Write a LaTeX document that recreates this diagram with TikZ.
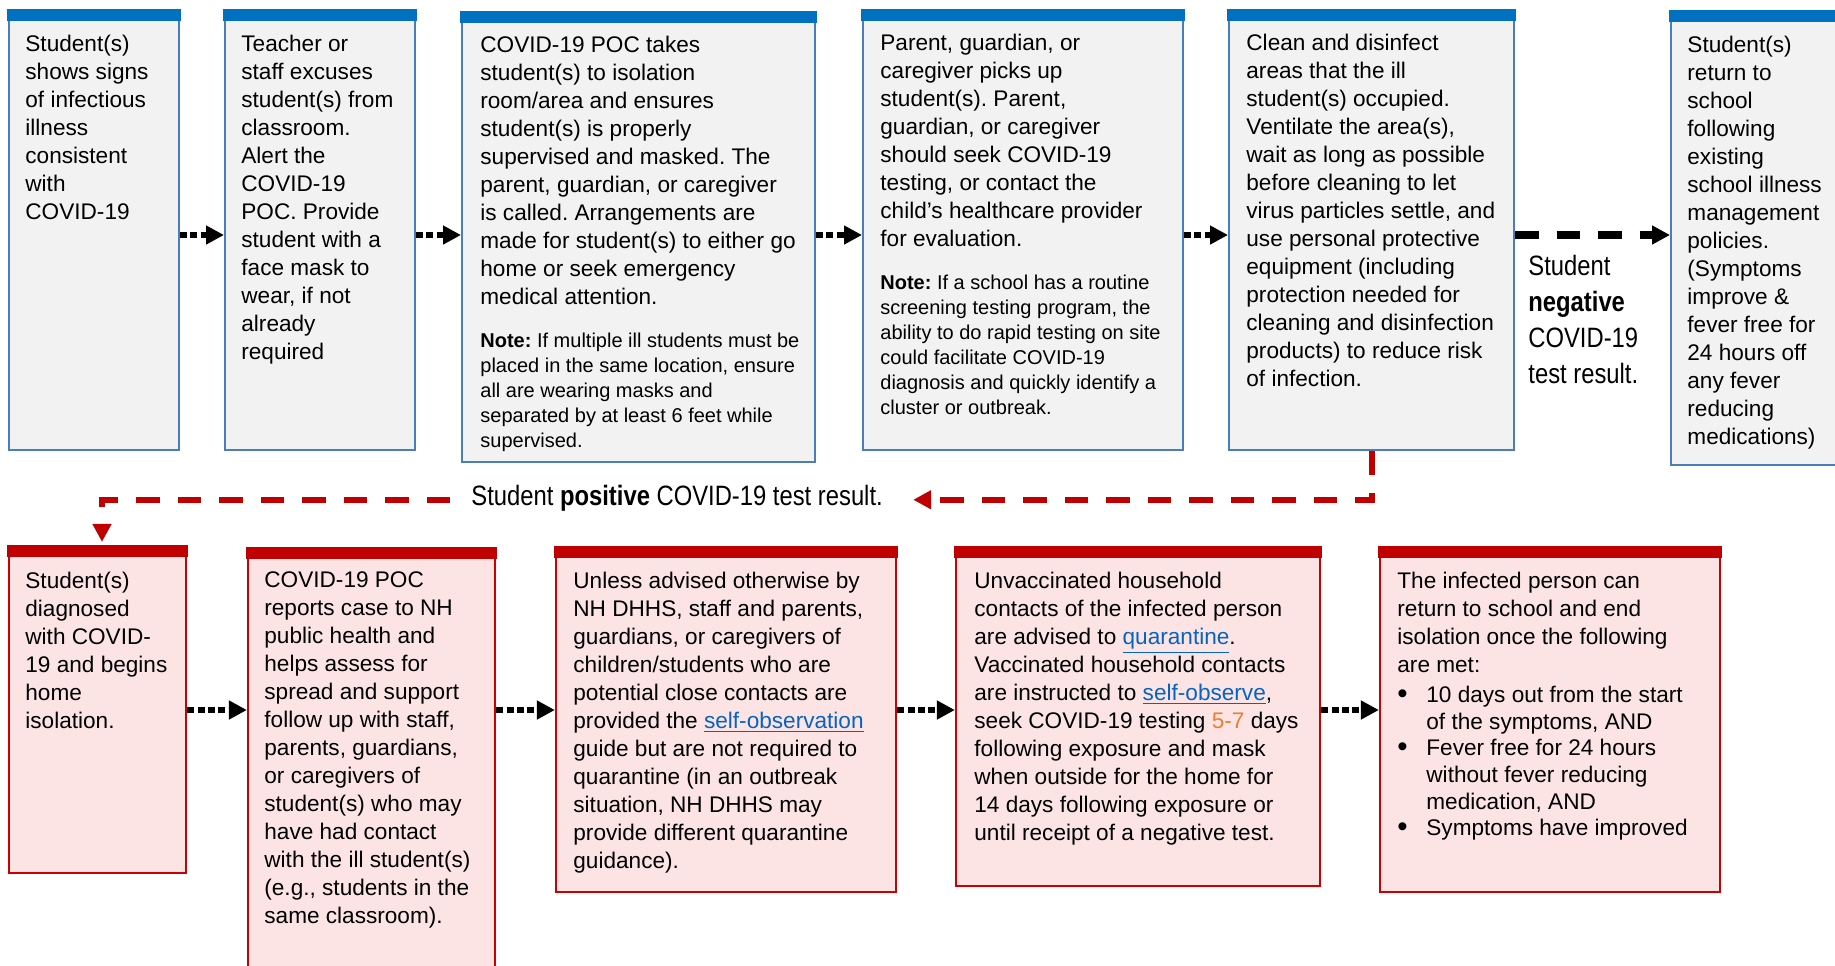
\documentclass[tikz,border=0pt]{standalone}
\usepackage{fontspec}
\setmainfont{Liberation Sans}
\newfontfamily\narrowfont[FakeStretch=0.85]{Liberation Sans}
\usetikzlibrary{arrows.meta,fit}
\definecolor{barblue}{RGB}{0,112,192}
\definecolor{edgeblue}{RGB}{74,126,187}
\definecolor{fillgray}{RGB}{242,242,242}
\definecolor{barred}{RGB}{192,0,0}
\definecolor{edgered}{RGB}{204,0,0}
\definecolor{fillpink}{RGB}{252,228,228}
\definecolor{linkblue}{RGB}{5,99,193}
\definecolor{numorange}{RGB}{237,125,49}
\definecolor{linered}{RGB}{192,0,0}
\newcommand\lnk[1]{\textcolor{linkblue}{\underline{#1}}}
\newcommand\fl{\rule{0pt}{10pt}}
\newcommand\fn{\rule{0pt}{9pt}}
\newcommand\bul{\makebox[14.5pt][l]{\raisebox{-0.4pt}{\scalebox{1.3}{\textbullet}}}}
\newcommand\ind{\hspace*{14.5pt}}
\frenchspacing
\begin{document}
\frenchspacing
\begin{tikzpicture}[x=0.5pt,y=-0.5pt,
  topbox/.style={draw=edgeblue, fill=fillgray, line width=1pt, inner sep=0pt},
  botbox/.style={draw=edgered, fill=fillpink, line width=1.1pt, inner sep=0pt},
  maintext/.style={anchor=north west, inner sep=0pt, align=left, font=\fontsize{11.3}{14}\selectfont},
  notetext/.style={anchor=north west, inner sep=0pt, align=left, font=\fontsize{10}{12.5}\selectfont},
  lbltext/.style={inner sep=0pt, align=left, font=\narrowfont\fontsize{14}{18}\selectfont},
  dotarrow/.style={line width=3pt, dash pattern=on 3.5pt off 1.7pt, -{Triangle[length=9pt,width=9pt]}},
  dasharrow/.style={line width=3.75pt, dash pattern=on 11.75pt off 9pt, -{Triangle[length=9pt,width=9pt]}},
  reddash/.style={draw=linered, line width=3pt, dash pattern=on 11.75pt off 9pt, -{Triangle[length=9pt,width=9pt]}, color=linered},
]
\useasboundingbox (0,0) rectangle (1835,965);
\clip (0,0) rectangle (1835,965);
\fill[white] (0,0) rectangle (1835,965);

% top row boxes
\node[topbox, fit={(9,10) (179,450)}] (b1) {};
\node[topbox, fit={(225,10) (415,450)}] (b2) {};
\node[topbox, fit={(462,12) (815,462)}] (b3) {};
\node[topbox, fit={(863,10) (1183,450)}] (b4) {};
\node[topbox, fit={(1229,10) (1514,450)}] (b5) {};
\node[topbox, fit={(1671,11) (1850,465)}] (b6) {};
% bottom row boxes
\node[botbox, fit={(9,546) (186,873)}] (b7) {};
\node[botbox, fit={(248,548) (495,1000)}] (b8) {};
\node[botbox, fit={(556,547) (896,892)}] (b9) {};
\node[botbox, fit={(956,547) (1320,886)}] (b10) {};
\node[botbox, fit={(1380,547) (1720,892)}] (b11) {};

\foreach \b in {b1,b2,b3,b4,b5,b6}
  \fill[barblue] ([xshift=-0.5pt]\b.north west) rectangle ([xshift=0.5pt,yshift=-6pt]\b.north east);
\foreach \b in {b7,b8,b9,b10,b11}
  \fill[barred] ([xshift=-0.5pt]\b.north west) rectangle ([xshift=0.5pt,yshift=-6pt]\b.north east);

% texts top row
\node[maintext] (t1) at (25,31) {\fl Student(s)\\shows signs\\of infectious\\illness\\consistent\\with\\COVID-19};
\node[maintext] (t2) at (241,31) {\fl Teacher or\\staff excuses\\student(s) from\\classroom.\\Alert the\\COVID-19\\POC. Provide\\student with a\\face mask to\\wear, if not\\already\\required};
\node[maintext] (t3) at (480,32) {\fl COVID-19 POC takes\\student(s) to isolation\\room/area and ensures\\student(s) is properly\\supervised and masked. The\\parent, guardian, or caregiver\\is called. Arrangements are\\made for student(s) to either go\\home or seek emergency\\medical attention.};
\node[notetext] (n3) at (480,329) {\fn\textbf{Note:} If multiple ill students must be\\placed in the same location, ensure\\all are wearing masks and\\separated by at least 6 feet while\\supervised.};
\node[maintext] (t4) at (880,30) {\fl Parent, guardian, or\\caregiver picks up\\student(s). Parent,\\guardian, or caregiver\\should seek COVID-19\\testing, or contact the\\child’s healthcare provider\\for evaluation.};
\node[notetext] (n4) at (880,271) {\fn\textbf{Note:} If a school has a routine\\screening testing program, the\\ability to do rapid testing on site\\could facilitate COVID-19\\diagnosis and quickly identify a\\cluster or outbreak.};
\node[maintext] (t5) at (1246,30) {\fl Clean and disinfect\\areas that the ill\\student(s) occupied.\\Ventilate the area(s),\\wait as long as possible\\before cleaning to let\\virus particles settle, and\\use personal protective\\equipment (including\\protection needed for\\cleaning and disinfection\\products) to reduce risk\\of infection.};
\node[maintext] (t6) at (1687,32) {\fl Student(s)\\return to\\school\\following\\existing\\school illness\\management\\policies.\\(Symptoms\\improve \&\\fever free for\\24 hours off\\any fever\\reducing\\medications)};
\node[lbltext, anchor=north west] (lneg) at (1528,251) {\rule{0pt}{12pt}Student\\\textbf{negative}\\COVID-19\\test result.};

% texts bottom row
\node[maintext] (t7) at (25,568) {\fl Student(s)\\diagnosed\\with COVID-\\19 and begins\\home\\isolation.};
\node[maintext] (t8) at (264,567) {\fl COVID-19 POC\\reports case to NH\\public health and\\helps assess for\\spread and support\\follow up with staff,\\parents, guardians,\\or caregivers of\\student(s) who may\\have had contact\\with the ill student(s)\\(e.g., students in the\\same classroom).};
\node[maintext] (t9) at (573,568) {\fl Unless advised otherwise by\\NH DHHS, staff and parents,\\guardians, or caregivers of\\children/students who are\\potential close contacts are\\provided the \lnk{self-observation}\\guide but are not required to\\quarantine (in an outbreak\\situation, NH DHHS may\\provide different quarantine\\guidance).};
\node[maintext] (t10) at (974,568) {\fl Unvaccinated household\\contacts of the infected person\\are advised to \lnk{quarantine}.\\Vaccinated household contacts\\are instructed to \lnk{self-observe},\\seek COVID-19 testing \textcolor{numorange}{5-7} days\\following exposure and mask\\when outside for the home for\\14 days following exposure or\\until receipt of a negative test.};
\node[maintext] (t11) at (1397,568) {\fl The infected person can\\return to school and end\\isolation once the following\\are met:};
\node[maintext, font=\fontsize{11.3}{13.35}\selectfont] (bl11) at (1397,682) {\fl\bul 10 days out from the start\\\ind of the symptoms, AND\\\bul Fever free for 24 hours\\\ind without fever reducing\\\ind medication, AND\\\bul Symptoms have improved};

\node[lbltext, anchor=base west] (lpos) at (471,505) {Student \textbf{positive} COVID-19 test result.};

% connectors
\coordinate (rowA) at (0,235);
\coordinate (rowB) at (0,710);
\draw[dotarrow] (b1.east |- rowA) -- (b2.west |- rowA);
\draw[dotarrow] (b2.east |- rowA) -- (b3.west |- rowA);
\draw[dotarrow] (b3.east |- rowA) -- (b4.west |- rowA);
\draw[dotarrow] (b4.east |- rowA) -- (b5.west |- rowA);
\draw[dasharrow] (b5.east |- rowA) -- (b6.west |- rowA);
\draw[dotarrow] (b7.east |- rowB) -- (b8.west |- rowB);
\draw[dotarrow] (b8.east |- rowB) -- (b9.west |- rowB);
\draw[dotarrow] (b9.east |- rowB) -- (b10.west |- rowB);
\draw[dotarrow] (b10.east |- rowB) -- (b11.west |- rowB);
\draw[reddash] (b5.south) |- ([xshift=15pt,yshift=-1pt]lpos.east);
\draw[reddash] ([xshift=-10.5pt,yshift=-1pt]lpos.west) -| ([xshift=2.25pt,yshift=1.5pt]b7.north);
\end{tikzpicture}
\end{document}
